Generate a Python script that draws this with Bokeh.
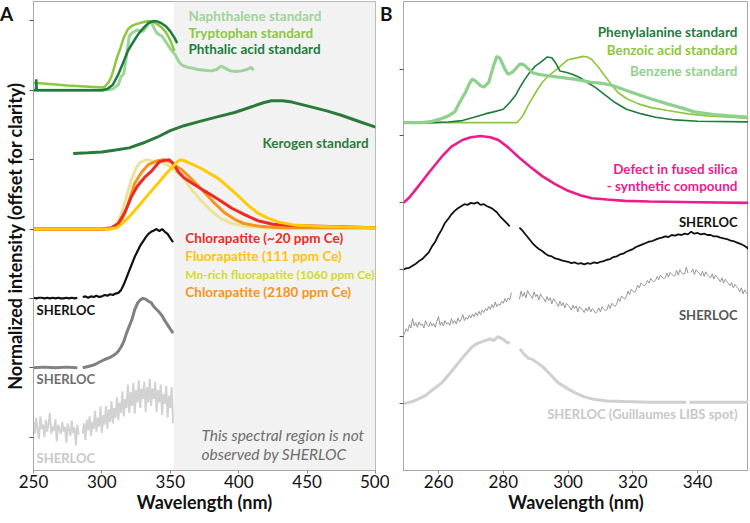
import numpy as np
from bokeh.plotting import figure
from bokeh.models import Range1d, FixedTicker, CustomJSTickFormatter, BoxAnnotation, Label, Div
from bokeh.layouts import row
from bokeh.embed import file_html
from bokeh.resources import INLINE

NaN = float("nan")

# ---------------- Panel A data ----------------
naph_wl = [250, 300, 308, 312, 314, 316, 318, 320, 322, 324, 326, 328, 330, 332, 334, 336, 338, 340, 342, 344,
           346, 348, 350, 352, 354, 356, 358, 360, 363, 366, 370, 375, 380, 384, 387, 390, 394, 398, 402, 406, 409, 411]
naph_v = [0, 0, 0.02, 0.08, 0.2, 0.24, 0.5, 0.78, 0.83, 0.85, 0.87, 0.86, 0.85, 0.9, 0.96, 1.0, 0.9, 0.83, 0.8, 0.78,
          0.72, 0.66, 0.6, 0.55, 0.5, 0.42, 0.37, 0.35, 0.33, 0.32, 0.3, 0.29, 0.28, 0.3, 0.35, 0.32, 0.28, 0.27, 0.28, 0.3, 0.33, 0.29]
tryp_wl = [250, 275, 300, 302, 305, 307, 309, 311, 313.6, 316, 319, 322, 326, 330, 334, 337, 340, 344, 347, 350, 353]
tryp_v = [0.11, 0.07, 0.04, 0.05, 0.12, 0.2, 0.33, 0.47, 0.61, 0.76, 0.88, 0.93, 0.96, 0.98, 1.0, 0.99, 0.96, 0.9, 0.83, 0.72, 0.57]
phth_wl = [250, 251.8, 252, 252.4, 300, 304, 308, 312, 316, 319, 323, 327, 331, 334, 338, 341, 344, 347, 350, 353, 355]
phth_v = [0, 0, 0.16, 0, 0, 0.02, 0.08, 0.23, 0.42, 0.57, 0.7, 0.82, 0.91, 0.97, 1.0, 0.99, 0.96, 0.92, 0.85, 0.76, 0.68]
ker_wl = [279, 290, 300, 310, 320, 330, 340, 350, 360, 373, 385, 397, 409, 418, 424, 432, 439, 447, 455, 465, 475, 488, 500]
ker_v = [4.09, 4.10, 4.11, 4.14, 4.17, 4.24, 4.32, 4.42, 4.49, 4.56, 4.62, 4.68, 4.76, 4.82, 4.85, 4.85, 4.83, 4.79,
         4.75, 4.70, 4.64, 4.55, 4.47]
mn_wl = [250, 305, 309, 313, 317, 321.6, 325, 328, 332.6, 337, 343.6, 350, 356, 361, 365.5, 372, 380, 387, 395, 405, 420, 450, 500]
mn_v = [0, 0, 0.04, 0.15, 0.4, 0.72, 0.88, 0.96, 1.0, 0.98, 0.97, 0.9, 0.8, 0.7, 0.57, 0.42, 0.26, 0.15, 0.08, 0.04, 0.02, 0.01, 0.01]
chl2180_wl = [250, 305, 310, 315, 319, 324, 329, 334, 340, 345, 350, 354, 358, 365, 373, 381, 390, 397, 404, 415, 430, 460, 500]
chl2180_v = [0, 0, 0.03, 0.15, 0.35, 0.66, 0.82, 0.93, 0.98, 1.0, 0.97, 0.91, 0.86, 0.73, 0.57, 0.4, 0.23, 0.14, 0.08, 0.04, 0.02, 0.02, 0.02]
chl20_wl = [250, 300, 307, 312, 317, 321.6, 326, 331, 336, 342, 346, 349, 352, 356, 360, 366, 375, 385, 395, 405, 414, 425, 439, 460, 480, 500]
chl20_v = [0, 0, 0.02, 0.08, 0.25, 0.47, 0.62, 0.74, 0.83, 0.97, 0.99, 1.0, 0.95, 0.82, 0.74, 0.66, 0.55, 0.43, 0.3, 0.2, 0.12, 0.07, 0.05, 0.04, 0.03, 0.02]
flu_wl = [250, 305, 311, 316, 321, 326.7, 334, 341, 347, 352, 355, 358, 362, 365.5, 372, 378, 385, 392, 400, 407, 414, 421, 429, 440, 455, 475, 500]
flu_v = [0, 0, 0.02, 0.1, 0.2, 0.33, 0.5, 0.66, 0.8, 0.9, 0.97, 1.0, 0.97, 0.94, 0.88, 0.81, 0.73, 0.61, 0.47, 0.34, 0.23, 0.16, 0.1, 0.06, 0.04, 0.03, 0.02]
shA_k_wl = [250, 252, 254, 256, 258, 260, 262, 264, 266, 268, 270, 272, 274, 276, 278, 280, 282, 284,
            286, 288, 290, 292, 294, 296, 298, 300, 302, 304, 306, 308, 310, 312, 314, 316, 318, 320, 322, 324,
            326, 328, 330, 332, 334, 336, 338, 340, 342, 344, 346, 348, 350, 352]
shA_k_v = [0.01, 0.00, 0.01, 0.01, 0.00, 0.01, 0.00, 0.01, 0.00, 0.01, 0.00, 0.00, 0.01, 0.00, 0.01, 0.00, 0.01, NaN,
           0.02, 0.03, 0.01, 0.03, 0.02, 0.04, 0.02, 0.03, 0.05, 0.04, 0.06, 0.05, 0.07, 0.08, 0.12, 0.20, 0.30, 0.40, 0.50, 0.60,
           0.68, 0.76, 0.82, 0.88, 0.93, 0.96, 0.98, 1.00, 0.97, 1.00, 0.96, 0.93, 0.87, 0.81]
shA_g_wl = [250, 258, 266, 274, 282, 284, 286, 290, 294, 298, 302, 306, 310, 312, 314, 316, 318, 320, 322, 324, 326,
            328, 330, 332, 334, 336, 338, 340, 342, 344, 346, 348, 350, 352]
shA_g_v = [0.0, 0.01, 0.0, 0.01, 0.0, NaN, 0.0, 0.02, 0.04, 0.08, 0.12, 0.15, 0.2, 0.24, 0.3, 0.38, 0.5, 0.6, 0.7, 0.84, 0.93,
           0.98, 1.0, 0.99, 0.96, 0.94, 0.88, 0.84, 0.8, 0.75, 0.68, 0.62, 0.56, 0.5]
shA_l_wl = list(range(250, 284)) + [284.5] + list(range(286, 353))
shA_l_v = [0.22, 0.05, 0.28, 0.10, -0.02, 0.30, 0.12, 0.18, 0.00, 0.25, 0.08, 0.20, 0.35, 0.05, 0.15, 0.10, 0.26, -0.06,
           0.18, 0.12, 0.05, 0.22, 0.08, 0.15, -0.08, 0.20, 0.10, 0.02, 0.24, 0.06, 0.14, -0.12, 0.18, 0.04,
           NaN,
           0.05, 0.20, -0.04, 0.25, 0.10, 0.30, 0.02, 0.22, 0.12, 0.38, 0.08, 0.28, 0.15, 0.44, 0.06, 0.32, 0.18, 0.45, 0.12,
           0.40, 0.22, 0.52, 0.20, 0.42, 0.28, 0.58, 0.25, 0.50, 0.35, 0.66, 0.30, 0.55, 0.42, 0.76, 0.35, 0.65, 0.45, 0.78,
           0.34, 0.68, 0.50, 0.82, 0.42, 0.70, 0.55, 0.80, 0.36, 0.72, 0.50, 0.84, 0.45, 0.70, 0.55, 0.80, 0.36, 0.68, 0.50,
           0.76, 0.32, 0.62, 0.48, 0.74, 0.28, 0.60, 0.42, 0.72, 0.20]

# ---------------- Panel B data ----------------
benz_wl = [249.2, 255, 258, 261, 263, 265, 266.5, 268.3, 269.5, 270.4, 271.5, 273, 274, 275.5, 277, 278, 279, 280.5, 281.5,
           283, 285.2, 286.5, 288.9, 291, 293.8, 297, 302, 304, 307.4, 310, 313.5, 318, 322.7, 326, 330.7, 335, 339, 345, 350, 355.7]
benz_v = [0, 0, 0.02, 0.06, 0.1, 0.16, 0.3, 0.45, 0.58, 0.65, 0.62, 0.55, 0.53, 0.6, 0.85, 0.99, 0.96, 0.8, 0.72,
          0.76, 0.88, 0.86, 0.75, 0.72, 0.7, 0.68, 0.65, 0.63, 0.6, 0.59, 0.56, 0.48, 0.4, 0.35, 0.28, 0.22, 0.16, 0.12, 0.1, 0.08]
phe_wl = [249.2, 258, 263, 267.4, 271, 274.4, 277, 280, 282, 283.7, 285.3, 286.7, 288.3, 289.8, 291.5, 293.5, 295, 296.3,
          297.5, 299.6, 301.5, 303.7, 306, 308.3, 311, 314.5, 318, 322.7, 327, 333, 340, 355.7]
phe_v = [0, 0, 0.01, 0.03, 0.08, 0.13, 0.16, 0.2, 0.3, 0.4, 0.54, 0.65, 0.76, 0.84, 0.9, 0.98, 0.97, 0.88,
         0.77, 0.75, 0.72, 0.67, 0.6, 0.53, 0.43, 0.3, 0.2, 0.13, 0.08, 0.04, 0.02, 0.01]
bzo_wl = [249.2, 284.3, 286, 287.7, 290, 292, 294, 296.6, 298, 300, 302, 304.6, 306, 307.4, 309.5, 311.5, 313.5, 315.4,
          318, 321.7, 326, 330.8, 337, 343, 350, 355.7]
bzo_v = [0, 0, 0.1, 0.26, 0.45, 0.6, 0.7, 0.8, 0.86, 0.94, 0.96, 0.99, 0.98, 0.94, 0.82, 0.69, 0.56, 0.45,
         0.36, 0.28, 0.22, 0.18, 0.13, 0.1, 0.08, 0.06]
pink_wl = [249.2, 251, 253.8, 257, 261, 264, 267.4, 270, 273, 276, 278.5, 281.5, 284.6, 288, 292, 296, 300, 304, 307.4,
           312, 317.5, 325, 340, 355.7]
pink_v = [0, 0.08, 0.25, 0.45, 0.69, 0.84, 0.94, 0.98, 1.0, 0.98, 0.94, 0.83, 0.69, 0.55, 0.4, 0.28, 0.18, 0.11, 0.07,
          0.05, 0.03, 0.02, 0.01, 0.0]
shB_k_wl = list(range(249, 283)) + [283.5] + list(range(285, 357))
shB_k_v = [0.00, 0.02, 0.03, 0.06, 0.09, 0.13, 0.16, 0.21, 0.26, 0.35, 0.42, 0.52, 0.60, 0.70, 0.76, 0.83, 0.88, 0.92,
           0.95, 0.98, 0.97, 1.00, 0.99, 1.01, 0.97, 0.98, 0.95, 0.93, 0.90, 0.86, 0.80, 0.75, 0.70, 0.65,
           NaN,
           0.63, 0.58, 0.52, 0.46, 0.40, 0.35, 0.31, 0.28, 0.24, 0.21, 0.20, 0.17, 0.16, 0.14, 0.13, 0.12, 0.10, 0.11,
           0.09, 0.10, 0.08, 0.10, 0.09, 0.11, 0.10, 0.12, 0.13, 0.15, 0.16, 0.19, 0.20, 0.23, 0.24, 0.27, 0.29, 0.31,
           0.34, 0.36, 0.38, 0.40, 0.42, 0.43, 0.45, 0.47, 0.48, 0.50, 0.49, 0.52, 0.51, 0.53, 0.52, 0.54, 0.53, 0.57,
           0.54, 0.55, 0.53, 0.54, 0.52, 0.52, 0.50, 0.50, 0.48, 0.47, 0.46, 0.44, 0.43, 0.41, 0.39, 0.37, 0.34, 0.30]
shB_g_v1 = [0.00, 0.05, 0.12, 0.08, 0.18, 0.13, 0.27, 0.16, 0.21, 0.14, 0.22, 0.17, 0.19, 0.13, 0.24, 0.18, 0.15, 0.22,
            0.16, 0.20, 0.14, 0.23, 0.30, 0.17, 0.22, 0.16, 0.24, 0.19, 0.21, 0.17, 0.27, 0.20, 0.24, 0.19, 0.28, 0.22,
            0.26, 0.33, 0.24, 0.29, 0.26, 0.32, 0.28, 0.34, 0.30, 0.36, 0.31, 0.38, 0.33, 0.40, 0.36, 0.42, 0.39, 0.45,
            0.41, 0.48, 0.43, 0.52, 0.45, 0.49, 0.47, 0.53, 0.50, 0.57, 0.52, 0.58, 0.55, 0.66]
shB_g_v2 = [0.56, 0.68, 0.60, 0.66, 0.58, 0.69, 0.64, 0.61, 0.57, 0.67, 0.60, 0.63, 0.55, 0.64, 0.59, 0.57, 0.52, 0.60,
            0.54, 0.58, 0.49, 0.57, 0.53, 0.50, 0.45, 0.53, 0.46, 0.51, 0.43, 0.50, 0.47, 0.44, 0.40, 0.47, 0.42, 0.46,
            0.37, 0.45, 0.42, 0.40, 0.36, 0.43, 0.38, 0.45, 0.37, 0.42, 0.39, 0.35, 0.38, 0.43, 0.37, 0.45, 0.41, 0.39,
            0.40, 0.48, 0.42, 0.50, 0.47, 0.45, 0.49, 0.57, 0.53, 0.61, 0.58, 0.56, 0.60, 0.68, 0.63, 0.71, 0.68, 0.66,
            0.70, 0.77, 0.73, 0.80, 0.78, 0.76, 0.78, 0.84, 0.80, 0.87, 0.84, 0.82, 0.84, 0.90, 0.85, 0.92, 0.89, 0.87,
            0.88, 0.95, 0.89, 0.96, 0.93, 0.91, 0.91, 0.99, 0.92, 1.00, 0.96, 0.94, 0.94, 1.04, 0.95, NaN, 0.96, 1.01,
            0.93, 1.00, 0.97, 0.95, 0.91, 0.98, 0.90, 0.97, 0.93, 0.90, 0.88, 0.94, 0.86, 0.92, 0.89, 0.86, 0.82, 0.88,
            0.80, 0.86, 0.82, 0.80, 0.76, 0.81, 0.73, 0.78, 0.75, 0.72, 0.67, 0.73, 0.64, 0.70, 0.66, 0.63, 0.58]
shB_g_wl = list(np.arange(len(shB_g_v1)) * 0.5 + 249.0) + [283.8] + list(np.arange(len(shB_g_v2)) * 0.5 + 285.0)
shB_g_v = shB_g_v1 + [NaN] + shB_g_v2
shB_l_wl = [249.2, 252, 256, 258, 261, 263, 266, 268, 270.4, 272, 274.4, 276, 277, 278.4, 280, 281, 282, 283.5,
            285.2, 286, 287.7, 289, 292, 294, 297, 300, 302.2, 305, 307.4, 312, 317.5, 325, 336.5, 337, 337.5, 355.7]
shB_l_v = [0.0, 0.03, 0.12, 0.2, 0.31, 0.42, 0.6, 0.72, 0.85, 0.9, 0.94, 0.97, 0.94, 1.0, 0.96, 0.92, 0.9, NaN,
           0.82, 0.76, 0.68, 0.66, 0.56, 0.46, 0.31, 0.22, 0.16, 0.1, 0.07, 0.04, 0.03, 0.02, 0.02, NaN, 0.02, 0.02]

offA = {"std": 5, "apa": 3, "k": 2, "g": 1, "l": 0}
offB = {"std": 4.2, "pink": 3, "k": 2, "g": 1, "l": 0}

xticksA = [250, 300, 350, 400, 450, 500]
xticksB = [260, 280, 300, 320, 340]

FONT = "Lato"
blank = CustomJSTickFormatter(code="return ''")


def style(p, xticks, yticks, ylabel):
    p.xgrid.visible = False
    p.ygrid.visible = False
    p.outline_line_color = "#A8A8A8"
    p.outline_line_width = 1
    p.xaxis.ticker = FixedTicker(ticks=xticks)
    p.yaxis.ticker = FixedTicker(ticks=yticks)
    p.yaxis.formatter = blank
    p.xaxis.axis_line_color = "#A8A8A8"
    p.yaxis.axis_line_color = "#A8A8A8"
    p.xaxis.major_tick_line_color = "#888888"
    p.yaxis.major_tick_line_color = "#555555"
    p.xaxis.major_tick_in = 0
    p.xaxis.major_tick_out = 3
    p.yaxis.major_tick_in = 0
    p.yaxis.major_tick_out = 4
    p.xaxis.minor_tick_line_color = None
    p.yaxis.minor_tick_line_color = None
    p.yaxis.major_label_standoff = 0
    p.xaxis.major_label_standoff = 1
    p.xaxis.major_label_text_font = FONT
    p.xaxis.major_label_text_font_size = "17px"
    p.xaxis.major_label_text_color = "#111111"
    p.xaxis.axis_label = "Wavelength (nm)"
    p.xaxis.axis_label_text_font = FONT
    p.xaxis.axis_label_text_font_size = "18px"
    p.xaxis.axis_label_text_font_style = "bold"
    p.xaxis.axis_label_text_color = "#111111"
    p.xaxis.axis_label_standoff = 0
    if ylabel:
        p.yaxis.axis_label = ylabel
        p.yaxis.axis_label_text_font = FONT
        p.yaxis.axis_label_text_font_size = "18px"
        p.yaxis.axis_label_text_font_style = "bold"
        p.yaxis.axis_label_text_color = "#111111"
        p.yaxis.axis_label_standoff = 4


def add(arr, off):
    return [v + off for v in arr]


def lab(p, x, y, text, color, size="13.5px", style_="bold", align="left"):
    p.add_layout(Label(x=x, y=y, text=text, text_color=color, text_font=FONT, text_font_size=size,
                       text_font_style=style_, text_align=align, text_baseline="middle"))


# ---------------- Figure A ----------------
pA = figure(frame_width=342, height=515, output_backend="svg", toolbar_location=None,
            x_range=Range1d(250, 500), y_range=Range1d(-0.48, 6.28),
            min_border_left=25, min_border_right=14, min_border_top=1, min_border_bottom=0)
style(pA, xticksA, [0, 1, 2, 3, 4, 5, 6], "Normalized intensity (offset for clarity)")
pA.add_layout(BoxAnnotation(left=352.5, right=500, fill_color="#F2F2F2", fill_alpha=1, line_color=None, level="underlay"))

cN, cT, cP = "#9DD497", "#8DC63F", "#1C7C3E"
pA.line(naph_wl, add(naph_v, offA["std"]), line_color=cN, line_width=3)
pA.line(tryp_wl, add(tryp_v, offA["std"]), line_color=cT, line_width=2.5)
pA.line(phth_wl, add(phth_v, offA["std"]), line_color=cP, line_width=2.5)
pA.line(ker_wl, ker_v, line_color="#2C7A3A", line_width=3)
pA.line(mn_wl, add(mn_v, offA["apa"]), line_color="#EBE39A", line_width=3)
pA.line(chl2180_wl, add(chl2180_v, offA["apa"]), line_color="#F7941D", line_width=3)
pA.line(chl20_wl, add(chl20_v, offA["apa"]), line_color="#EE2A24", line_width=3)
pA.line(flu_wl, add(flu_v, offA["apa"]), line_color="#FFCB05", line_width=3)
pA.line(shA_l_wl, add(shA_l_v, offA["l"]), line_color="#D2D2D2", line_width=2)
pA.line(shA_g_wl, add(shA_g_v, offA["g"]), line_color="#808080", line_width=3)
pA.line(shA_k_wl, add(shA_k_v, offA["k"]), line_color="#111111", line_width=2.2)

lab(pA, 363.3, 6.07, "Naphthalene standard", cN)
lab(pA, 363.3, 5.83, "Tryptophan standard", cT)
lab(pA, 363.3, 5.59, "Phthalic acid standard", cP)
lab(pA, 417.4, 4.24, "Kerogen standard", "#2C7A3A")
lab(pA, 361, 2.87, "Chlorapatite (~20 ppm Ce)", "#EE2A24")
lab(pA, 361, 2.61, "Fluorapatite (111 ppm Ce)", "#FFC20E")
lab(pA, 361, 2.35, "Mn-rich fluorapatite (1060 ppm Ce)", "#D3DA2A", size="12px")
lab(pA, 361, 2.10, "Chlorapatite (2180 ppm Ce)", "#F7941D")
lab(pA, 252.2, 1.83, "SHERLOC", "#111111", size="13px")
lab(pA, 252.2, 0.84, "SHERLOC", "#6E6E6E", size="13px")
lab(pA, 252.2, -0.30, "SHERLOC", "#C8C8C8", size="13px")
lab(pA, 372.8, 0.03, "This spectral region is not", "#6D6D6D", size="15.5px", style_="italic")
lab(pA, 372.8, -0.24, "observed by SHERLOC", "#6D6D6D", size="15.5px", style_="italic")

# ---------------- Figure B ----------------
pB = figure(frame_width=345, height=515, output_backend="svg", toolbar_location=None,
            x_range=Range1d(249.2, 355.7), y_range=Range1d(-1.0, 6.01),
            min_border_left=14, min_border_right=0, min_border_top=1, min_border_bottom=0)
style(pB, xticksB, [0, 1, 2, 3, 4, 5], None)

cBz = "#8FD08C"
pB.line(bzo_wl, add(bzo_v, offB["std"]), line_color=cT, line_width=1.6)
pB.line(phe_wl, add(phe_v, offB["std"]), line_color=cP, line_width=1.6)
pB.line(benz_wl, add(benz_v, offB["std"]), line_color=cBz, line_width=3.2)
pB.line(pink_wl, add(pink_v, offB["pink"]), line_color="#EC1C8C", line_width=2.6)
pB.line(shB_k_wl, add(shB_k_v, offB["k"]), line_color="#111111", line_width=1.8)
pB.line(shB_g_wl, add(shB_g_v, offB["g"]), line_color="#8C8C8C", line_width=0.9)
pB.line(shB_l_wl, add(shB_l_v, offB["l"]), line_color="#D0D0D0", line_width=3)

lab(pB, 352.3, 5.56, "Phenylalanine standard", cP, align="right")
lab(pB, 352.3, 5.28, "Benzoic acid standard", cT, align="right")
lab(pB, 352.3, 4.97, "Benzene standard", cBz, align="right")
lab(pB, 352.3, 3.50, "Defect in fused silica", "#EC1C8C", align="right")
lab(pB, 352.3, 3.25, "- synthetic compound", "#EC1C8C", align="right")
lab(pB, 352.3, 2.72, "SHERLOC", "#111111", size="13px", align="right")
lab(pB, 352.3, 1.32, "SHERLOC", "#555555", size="13px", align="right")
lab(pB, 352.3, -0.16, "SHERLOC (Guillaumes LIBS spot)", "#C8C8C8", size="13px", align="right")

letter_style = {"position": "absolute", "font-family": "Lato", "font-weight": "bold",
                "font-size": "19px", "color": "#111111", "line-height": "19px"}
divA = Div(text="A", width=16, height=20, styles=dict(letter_style, left="-5px", top="-1px"))
divB = Div(text="B", width=16, height=20, styles=dict(letter_style, left="375px", top="-1px"))

layout = row(pA, pB, divA, divB, spacing=0)
open("out.html", "w").write(file_html(layout, INLINE))
